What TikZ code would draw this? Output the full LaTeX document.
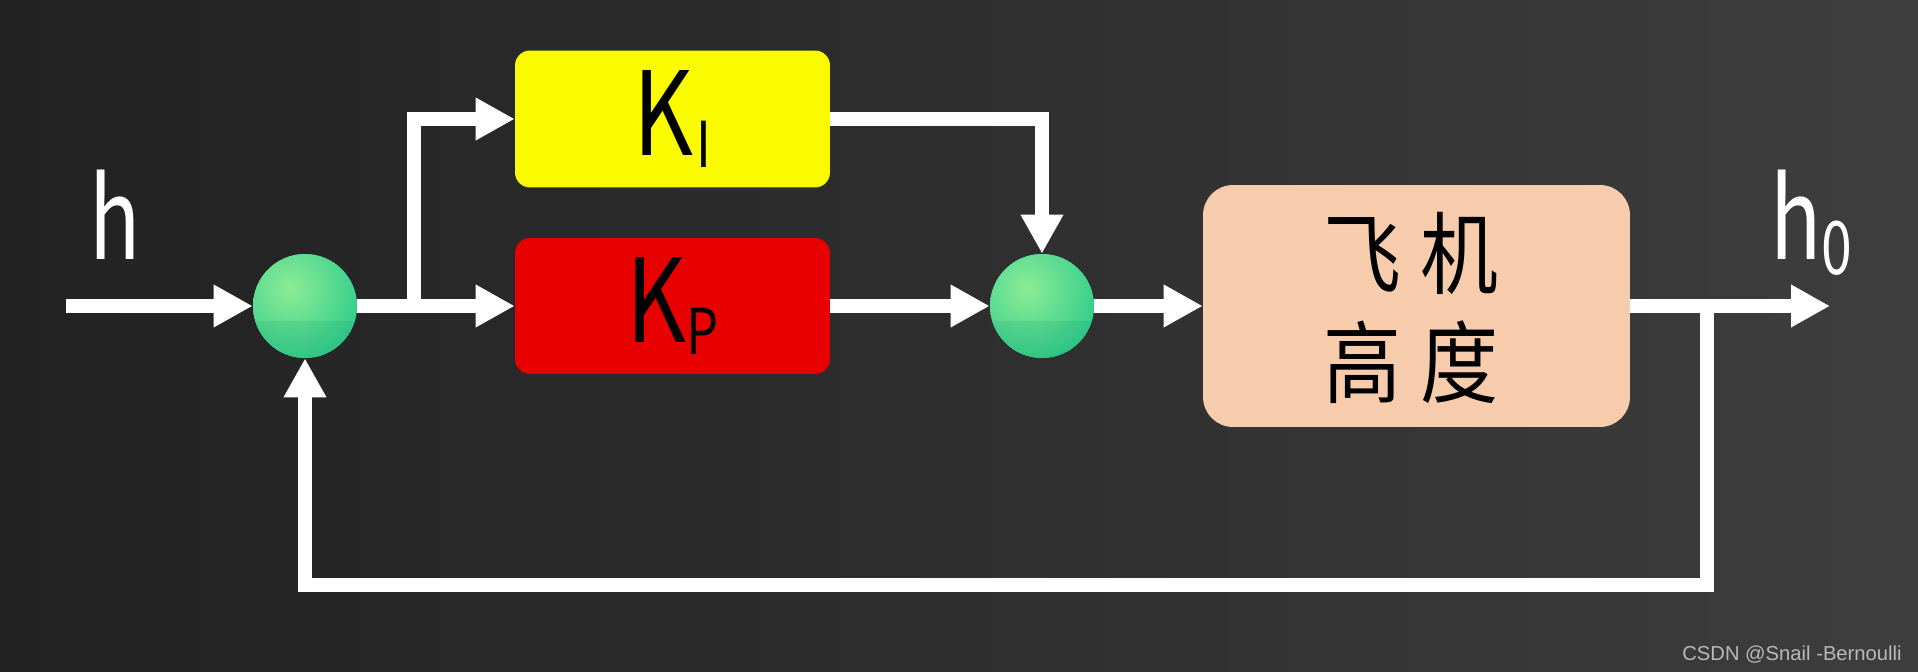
\documentclass[tikz,border=0pt]{standalone}
\usepackage{fontspec}
\usepackage{graphicx}
\newfontfamily\cjk{Noto Sans CJK SC}
\newfontfamily\wmfont{Liberation Sans}
\usetikzlibrary{arrows.meta,shadings}
\definecolor{bgL}{RGB}{34,34,34}
\definecolor{bgM}{RGB}{46,46,46}
\definecolor{bgR}{RGB}{62,62,62}
\definecolor{kiY}{RGB}{250,250,0}
\definecolor{kpR}{RGB}{232,0,0}
\definecolor{plantC}{RGB}{246,204,172}
\definecolor{sumG}{RGB}{38,200,138}
\definecolor{sumL}{RGB}{140,236,150}
\definecolor{sumD}{RGB}{20,150,100}
\definecolor{wmC}{RGB}{185,185,185}
\tikzset{
  blk/.style={rounded corners=0.3cm, inner sep=0pt, text=black},
  sumnode/.style={circle, minimum size=2.08cm, inner sep=0pt, fill=sumG,
    path picture={
      \shade[inner color=sumL, outer color=sumG]
        ([shift={(-0.3cm,0.35cm)}]path picture bounding box.center) circle (1.7cm);
      \fill[sumD, opacity=0.15] ([shift={(-1.1cm,-0.3cm)}]path picture bounding box.center)
        rectangle ([shift={(1.1cm,-1.1cm)}]path picture bounding box.center);
    }},
  wire/.style={draw=white, line width=0.28cm, -{Triangle[length=0.78cm,width=0.8cm]}},
  plainwire/.style={draw=white, line width=0.28cm},
  lbl/.style={text=white, inner sep=0pt},
  cjkline/.style={inner sep=0pt, text=black}
}
\begin{document}
\begin{tikzpicture}[x=0.02cm,y=-0.02cm]
\shade[left color=bgL, right color=bgR, middle color=bgM] (0,0) rectangle (1918,672);
\useasboundingbox (0,0) rectangle (1918,672);

% blocks
\node[blk, fill=kiY, minimum width=6.3cm, minimum height=2.74cm] (KI) at (672.5,119)
  {\cjk\fontsize{66}{70}\selectfont\scalebox{0.8}[1]{K\hspace{2pt}\raisebox{-7pt}{\fontsize{36}{38}\selectfont I}}};
\node[blk, fill=kpR, minimum width=6.3cm, minimum height=2.72cm] (KP) at (672.5,306)
  {\cjk\fontsize{66}{70}\selectfont\scalebox{0.8}[1]{K\raisebox{-7pt}{\fontsize{36}{38}\selectfont P}}};
\node[blk, rounded corners=0.6cm, fill=plantC, minimum width=8.54cm, minimum height=4.84cm] (plant) at (1416.5,306) {};
\node[cjkline] (pl1) at (1411,253) {\cjk\fontsize{51}{56}\selectfont\scalebox{0.87}[1]{飞\hspace{12pt}机}};
\node[cjkline] (pl2) at (1411,362) {\cjk\fontsize{51}{56}\selectfont\scalebox{0.87}[1]{高\hspace{12pt}度}};

% summing junctions
\node[sumnode] (s1) at (305,306) {};
\node[sumnode] (s2) at (1042,306) {};

% labels
\node[lbl, anchor=base] (hin) at (115,260) {\cjk\fontsize{64}{70}\selectfont\scalebox{0.75}[1]{h}};
\node[lbl, anchor=base west] (hout) at (1770,260) {\cjk\fontsize{64}{70}\selectfont\scalebox{0.75}[1]{h\raisebox{-8pt}{\fontsize{42}{44}\selectfont 0}}};
\node[anchor=east, inner sep=0pt, text=wmC] (wm) at (1902,655) {\wmfont\fontsize{11.5}{13}\selectfont CSDN @Snail -Bernoulli};

% coordinates
\coordinate (in) at (66,306);
\coordinate (br1) at (414,306);
\coordinate (out) at (1830,306);
\coordinate (br2) at (1707,306);
\coordinate (fb) at (1707,585);

% connectors
\draw[wire] (in) -- (s1.west);
\draw[plainwire] (s1.east) -- (br1);
\draw[wire] (br1) |- (KI.west);
\draw[wire] (br1) -- (KP.west);
\draw[wire] (KI.east) -| (s2.north);
\draw[wire] (KP.east) -- (s2.west);
\draw[wire] (s2.east) -- (plant.west);
\draw[wire] (plant.east) -- (out);
\draw[wire] (br2) -- (fb) -| (s1.south);
\end{tikzpicture}
\end{document}
